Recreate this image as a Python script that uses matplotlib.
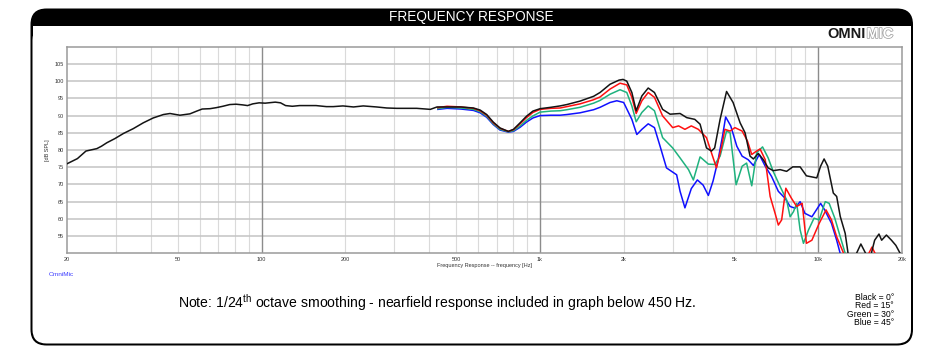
import matplotlib
matplotlib.use('Agg')
import matplotlib.pyplot as plt
from matplotlib.patches import FancyBboxPatch, Rectangle
import matplotlib.patheffects as pe
from matplotlib.ticker import FixedLocator, FixedFormatter, NullFormatter

plt.rcParams['font.family'] = ['Liberation Sans', 'DejaVu Sans']
plt.rcParams['mathtext.fontset'] = 'custom'
plt.rcParams['mathtext.rm'] = 'Liberation Sans'

# ---------------- data ----------------
black_f = [20, 21.8, 23.4, 25.6, 26.6, 27.8, 29.7, 31.9, 34.6, 37.6, 40.8, 44.4, 46.9, 50.9,
           55.3, 58.5, 61.2, 65.3, 68.8, 72.6, 76.9, 81, 85.6, 89.1, 93, 98, 103, 112, 117,
           122, 129, 137, 157, 171, 181, 196, 214, 232, 259, 282, 306, 361, 404, 427, 464,
           520, 577, 610, 644, 680, 719, 770, 804, 849, 895, 944, 1002, 1095, 1182, 1250,
           1394, 1560, 1645, 1787, 1925, 1990, 2052, 2140, 2218, 2325, 2450, 2580, 2760,
           2936, 3189, 3370, 3602, 3763, 3968, 4134, 4246, 4441, 4685, 4945, 5240, 5460,
           5692, 5850, 6090, 6347, 6610, 6890, 7297, 7700, 8102, 8610, 9070, 9880, 10200,
           10500, 10820, 11330, 11650, 12000, 12500, 12800, 13200, 13730, 14230, 14800,
           15300, 15950, 16530, 16900, 17580, 18330, 19010, 19690, 20000]
black_db = [76.0, 77.5, 79.7, 80.4, 81.1, 82.1, 83.3, 84.8, 86.2, 87.9, 89.3, 90.3, 90.6, 90.1,
            90.5, 91.3, 91.9, 92.0, 92.3, 92.7, 93.2, 93.3, 93.1, 92.9, 93.4, 93.7, 93.6, 93.9, 93.7,
            92.9, 92.7, 92.9, 92.9, 92.6, 92.6, 92.8, 92.5, 92.8, 92.5, 92.2, 92.1, 92.1, 91.8, 92.5, 92.5,
            92.5, 92.2, 91.6, 90.3, 88.1, 86.4, 85.4, 86.0, 87.9, 89.8, 91.3, 92.0, 92.4, 92.8, 93.2,
            94.2, 95.6, 96.7, 99.1, 100.3, 100.5, 100.0, 96.7, 91.4, 95.7, 98.0, 96.7, 91.8,
            90.4, 90.6, 89.4, 88.9, 87.5, 80.6, 79.7, 80.6, 88.9, 97.0, 93.8, 87.9, 85.0,
            78.2, 77.4, 79.0, 77.2, 74.8, 74.0, 74.3, 73.8, 75.1, 75.1, 72.5, 71.9, 75.3,
            77.4, 75.3, 67.5, 66.5, 60.7, 55.8, 50.0, 47.0, 50.0, 52.7, 50.0,
            48.0, 53.8, 55.6, 53.8, 55.3, 53.8, 52.3, 50.0, 48.0]

red_f = [430, 464, 520, 577, 610, 644, 680, 719, 770, 804, 849, 895, 944, 1002, 1095, 1182,
         1250, 1394, 1560, 1645, 1787, 1941, 2052, 2140, 2218, 2325, 2450, 2580, 2760, 3000,
         3150, 3320, 3500, 3710, 3968, 4134, 4310, 4500, 4620, 4824, 5020, 5330, 5570, 5770,
         6010, 6180, 6450, 6720, 7000, 7190, 7390, 7650, 8010, 8370, 8760, 9070, 9490, 10080,
         10670, 11160, 11650, 12340, 12800, 14800, 15200, 15600, 16000, 16400]
red_db = [92.3, 92.7, 92.5, 92.1, 91.4, 90.1, 87.9, 86.3, 85.4, 85.9, 87.6, 89.4, 90.9, 91.8, 92.1, 92.2,
          92.6, 93.4, 94.6, 95.4, 97.7, 99.4, 98.9, 95.3, 90.6, 94.3, 96.7, 95.3, 89.9, 86.5,
          87.0, 86.0, 87.0, 86.0, 83.6, 79.2, 74.8, 81.1, 86.0, 85.5, 86.5, 85.5, 82.6, 78.7,
          79.7, 80.3, 77.2, 66.5, 61.6, 58.2, 59.7, 68.9, 66.0, 63.6, 64.5, 52.9, 53.8, 58.7,
          62.6, 59.7, 54.8, 50.0, 46.0, 46.0, 50.0, 51.8, 50.0, 46.0]

green_f = [430, 464, 520, 577, 610, 644, 680, 719, 770, 804, 849, 895, 944, 1002, 1095, 1182,
           1250, 1394, 1560, 1645, 1787, 1941, 2052, 2140, 2218, 2325, 2450, 2580, 2760, 3000,
           3189, 3420, 3560, 3763, 4030, 4246, 4441, 4685, 4824, 5070, 5330, 5530, 5770, 6010,
           6310, 6610, 6890, 7297, 7700, 7926, 8150, 8370, 8610, 8850, 9230, 9660, 10080,
           10600, 10950, 11470, 12000, 12500, 12800]
green_db = [92.0, 92.4, 92.2, 91.8, 91.1, 89.8, 87.6, 86.0, 85.3, 85.6, 87.0, 88.6, 89.9, 91.0, 91.3, 91.4,
            91.7, 92.4, 93.6, 94.4, 96.2, 97.5, 96.7, 92.8, 88.2, 90.9, 92.8, 91.4, 83.6, 80.6,
            77.7, 74.3, 71.3, 78.0, 75.9, 75.8, 78.2, 85.5, 85.0, 69.9, 75.3, 76.2, 69.6, 79.2,
            80.9, 77.7, 73.8, 69.4, 65.5, 60.6, 62.1, 64.5, 56.8, 52.9, 56.8, 60.2, 59.7,
            65.0, 64.5, 60.2, 54.8, 50.0, 47.0]

blue_f = [430, 464, 520, 577, 610, 644, 680, 719, 770, 804, 849, 895, 944, 1002, 1095, 1182,
          1250, 1394, 1560, 1645, 1787, 1890, 2000, 2140, 2230, 2325, 2450, 2580, 2703, 2850,
          3100, 3189, 3320, 3500, 3680, 3860, 4030, 4190, 4370, 4530, 4650, 4850, 5100, 5330,
          5600, 5850, 6140, 6450, 6800, 7190, 7600, 7926, 8250, 8610, 8960, 9490, 10200,
          10550, 11160, 11650, 11990, 12300]
blue_db = [91.8, 92.1, 91.9, 91.5, 90.8, 89.5, 87.4, 85.8, 85.2, 85.4, 86.6, 88.1, 89.3, 90.0, 90.1, 90.1,
           90.3, 90.8, 91.7, 92.4, 93.8, 94.3, 93.8, 88.9, 84.5, 86.0, 87.6, 86.5, 81.1, 74.8,
           72.8, 68.0, 63.2, 68.8, 71.3, 69.8, 66.8, 71.0, 77.2, 84.0, 89.6, 87.0, 81.1, 78.2,
           77.2, 75.5, 78.7, 75.3, 72.3, 68.0, 66.0, 63.6, 63.1, 65.0, 61.6, 60.6, 64.5,
           62.6, 58.7, 53.8, 50.0, 47.0]

y_ticks = [55, 60, 65, 70, 75, 80, 85, 90, 95, 100, 105]
x_ticks = [20, 50, 100, 200, 500, 1000, 2000, 5000, 10000, 20000]
x_tick_labels = ['20', '50', '100', '200', '500', '1k', '2k', '5k', '10k', '20k']
legend_lines = ['Black = 0°', 'Red = 15°', 'Green = 30°', 'Blue = 45°']

# ---------------- figure ----------------
W, H = 932, 357
fig = plt.figure(figsize=(W / 100, H / 100), dpi=100)

bg = fig.add_axes([0, 0, 1, 1])
bg.set_xlim(0, W)
bg.set_ylim(H, 0)
bg.axis('off')

# frame: black rounded outer shape, white body inside
bg.add_patch(FancyBboxPatch((30.5, 8.5), 882.5, 337,
                            boxstyle='round,pad=0,rounding_size=16',
                            fc='black', ec='none'))
bg.add_patch(FancyBboxPatch((32.5, 26), 878.5, 317.5,
                            boxstyle='round,pad=0,rounding_size=14',
                            fc='white', ec='none'))
bg.add_patch(Rectangle((32.5, 26), 878.5, 30, fc='white', ec='none'))

bg.text(471, 17.5, 'FREQUENCY RESPONSE', color='white', fontsize=9.8,
        ha='center', va='center')

# logo
bg.text(866, 34, 'OMNI', color='#1a1a1a', fontsize=10.5, fontweight='bold',
        ha='right', va='center')
bg.text(866.5, 34, 'MIC', color='white', fontsize=10.5, fontweight='bold',
        ha='left', va='center',
        path_effects=[pe.Stroke(linewidth=1.0, foreground='#9a9a9a'), pe.Normal()])

# texts
bg.text(49, 274.5, 'OmniMic', color='#3b3bff', fontsize=4.6, ha='left', va='center')
bg.text(437, 308, r'Note: 1/24$^{\mathrm{th}}$ octave smoothing - nearfield response included in graph below 450 Hz.',
        color='black', fontsize=10.1, ha='center', va='baseline')
for i, s in enumerate(legend_lines):
    bg.text(894, 297.5 + i * 8.4, s, color='black', fontsize=6.2, ha='right', va='center')

# ---------------- plot axes ----------------
left, right, top, bottom = 67, 902, 46.7, 253.3
ax = fig.add_axes([left / W, 1 - bottom / H, (right - left) / W, (bottom - top) / H])
ax.set_facecolor('white')
ax.set_xscale('log')
ax.set_xlim(20, 20000)
ax.set_ylim(50, 110)

# grid lines
minor_x = [m * d for d in (10, 100, 1000) for m in range(2, 10)]
for f in minor_x:
    if 20 < f < 20000:
        ax.axvline(f, color='#dadada', lw=0.8, zorder=1)
for f in (100, 1000, 10000):
    ax.axvline(f, color='#8c8c8c', lw=1.0, zorder=1.2)
for yv in y_ticks:
    ax.axhline(yv, color='#c4c4c4', lw=1.1, zorder=1.1)

ax.plot(blue_f, blue_db, color='#1010ff', lw=1.1, zorder=3)
ax.plot(green_f, green_db, color='#1fb27e', lw=1.1, zorder=3.1)
ax.plot(red_f, red_db, color='#ff1010', lw=1.1, zorder=3.2)
ax.plot(black_f, black_db, color='#141414', lw=1.1, zorder=3.3)

ax.xaxis.set_major_locator(FixedLocator(x_ticks))
ax.xaxis.set_major_formatter(FixedFormatter(x_tick_labels))
ax.xaxis.set_minor_formatter(NullFormatter())
ax.set_yticks(y_ticks)
ax.set_yticklabels([str(v) for v in y_ticks])
ax.tick_params(which='both', length=0, labelsize=4, colors='#333333', pad=2.5)
ax.set_xlabel('Frequency Response -- frequency [Hz]', fontsize=4, labelpad=1, color='#333333')
ax.set_ylabel('[dB SPL]', fontsize=4, labelpad=3, color='#333333')
for s in ax.spines.values():
    s.set_color('#9a9a9a')
    s.set_linewidth(1.1)

fig.savefig('out.png', dpi=100)
